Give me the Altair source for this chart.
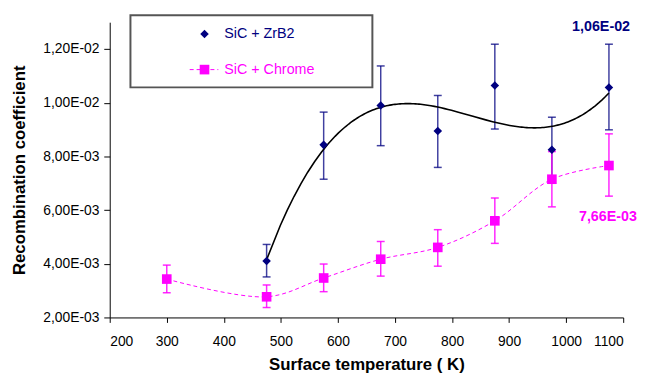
import altair as alt
import pandas as pd

# ---- data ----
zr_T = [475, 575, 675, 775, 875, 975, 1075]
zr_v = [0.00410, 0.00843, 0.00990, 0.00895, 0.01064, 0.00825, 0.01057]
zr_lo = [0.00351, 0.00715, 0.00840, 0.00759, 0.00902, 0.00700, 0.00899]
zr_hi = [0.00472, 0.00965, 0.01137, 0.01027, 0.01218, 0.00946, 0.01218]

cr_T = [300, 475, 575, 675, 775, 875, 975, 1075]
cr_v = [0.00343, 0.00277, 0.00347, 0.00417, 0.00461, 0.00560, 0.00715, 0.00766]
cr_lo = [0.00292, 0.00237, 0.00296, 0.00354, 0.00391, 0.00476, 0.00612, 0.00652]
cr_hi = [0.00395, 0.00321, 0.00399, 0.00483, 0.00527, 0.00645, 0.00818, 0.00884]

series_names = ["SiC + ZrB2", "SiC + Chrome"]
end_labels = ["1,06E-02", "7,66E-03"]

x_ticks = list(range(200, 1101, 100))
y_ticks = [0.002, 0.004, 0.006, 0.008, 0.010, 0.012]

NAVY = "#000080"
MAG = "#FF00FF"
FONT = "Liberation Sans"

zr = pd.DataFrame({"T": zr_T, "v": zr_v, "lo": zr_lo, "hi": zr_hi})
cr = pd.DataFrame({"T": cr_T, "v": cr_v, "lo": cr_lo, "hi": cr_hi})
lab = pd.DataFrame({"T": [zr_T[-1], cr_T[-1]], "v": [zr_v[-1], cr_v[-1]],
                    "txt": end_labels})

xs = alt.Scale(domain=[200, 1100], nice=False, zero=False)
ys = alt.Scale(domain=[0.002, 0.013], nice=False, zero=False)

X = alt.X("T:Q", scale=xs,
          axis=alt.Axis(values=x_ticks, title="Surface temperature ( K)",
                        format="d", labelPadding=12, titlePadding=9,
                        tickSize=5))
Y = alt.Y("v:Q", scale=ys,
          axis=alt.Axis(values=y_ticks, title="Recombination coefficient",
                        labelExpr="replace(replace(upper(format(datum.value, '.2e')), '.', ','), 'E-', 'E-0')",
                        labelPadding=5, titlePadding=14, tickSize=6))


def bars(df, color, op):
    base = alt.Chart(df)
    rule = base.mark_rule(color=color, strokeWidth=1.5, opacity=op).encode(
        x=alt.X("T:Q", scale=xs), y=alt.Y("lo:Q", scale=ys), y2="hi:Q")
    cap_lo = base.mark_tick(color=color, orient="horizontal", size=8,
                            thickness=1.5, opacity=op).encode(
        x=alt.X("T:Q", scale=xs), y=alt.Y("lo:Q", scale=ys))
    cap_hi = base.mark_tick(color=color, orient="horizontal", size=8,
                            thickness=1.5, opacity=op).encode(
        x=alt.X("T:Q", scale=xs), y=alt.Y("hi:Q", scale=ys))
    return rule + cap_lo + cap_hi


trend = alt.Chart(zr).transform_regression(
    "T", "v", method="poly", order=3
).mark_line(color="black", strokeWidth=1.6).encode(x=X, y=Y)

cr_line = alt.Chart(cr).mark_line(
    color=MAG, strokeWidth=1, strokeDash=[4, 3], interpolate="catmull-rom"
).encode(x=X, y=Y)

zr_pts = alt.Chart(zr).mark_point(shape="diamond", filled=True, size=75,
                                  color=NAVY, opacity=1).encode(x=X, y=Y)
cr_pts = alt.Chart(cr).mark_point(shape="square", filled=True, size=95,
                                  color=MAG, opacity=1).encode(x=X, y=Y)

lab_zr = alt.Chart(lab.iloc[[0]]).mark_text(
    font=FONT, fontSize=14.5, fontWeight="bold", color=NAVY, dx=-8, dy=-61
).encode(x=X, y=Y, text="txt:N")
lab_cr = alt.Chart(lab.iloc[[1]]).mark_text(
    font=FONT, fontSize=14.5, fontWeight="bold", color=MAG, dx=-1, dy=52
).encode(x=X, y=Y, text="txt:N")

# ---- manual legend box ----
one = pd.DataFrame({"a": [0]})
leg_box = alt.Chart(one).mark_rect(fill="white", stroke="#555555",
                                   strokeWidth=2).encode(
    x=alt.value(21), x2=alt.value(266), y=alt.value(-7), y2=alt.value(66))
leg_d = alt.Chart(one).mark_point(shape="diamond", filled=True, size=75,
                                  color=NAVY, opacity=1).encode(
    x=alt.value(96), y=alt.value(12))
leg_t1 = alt.Chart(one).mark_text(font=FONT, fontSize=14.5, color=NAVY,
                                  align="left", baseline="middle",
                                  text=series_names[0]).encode(
    x=alt.value(116), y=alt.value(12))
leg_l = alt.Chart(one).mark_rule(color=MAG, strokeWidth=1,
                                 strokeDash=[4, 3]).encode(
    x=alt.value(81), x2=alt.value(110), y=alt.value(48))
leg_s = alt.Chart(one).mark_point(shape="square", filled=True, size=95,
                                  color=MAG, opacity=1).encode(
    x=alt.value(96), y=alt.value(48))
leg_t2 = alt.Chart(one).mark_text(font=FONT, fontSize=14.5, color=MAG,
                                  align="left", baseline="middle",
                                  text=series_names[1]).encode(
    x=alt.value(116), y=alt.value(48))

chart = alt.layer(
    bars(zr, NAVY, 0.75), bars(cr, MAG, 0.85), trend, cr_line, zr_pts, cr_pts,
    lab_zr, lab_cr, leg_box, leg_d, leg_t1, leg_l, leg_s, leg_t2
).properties(
    width=520, height=299,
    autosize=alt.AutoSizeParams(type="none"),
    padding={"left": 103, "top": 12, "right": 16, "bottom": 64},
    background="white",
).configure_view(stroke=None).configure_axis(
    grid=False, domainColor="black", tickColor="black", labelColor="black",
    titleColor="black", labelFont=FONT, titleFont=FONT, labelFontSize=14,
    titleFontSize=17, titleFontWeight="bold", domainWidth=1, tickWidth=1
)

chart.save("out.html", embed_options={"renderer": "svg", "actions": False})
